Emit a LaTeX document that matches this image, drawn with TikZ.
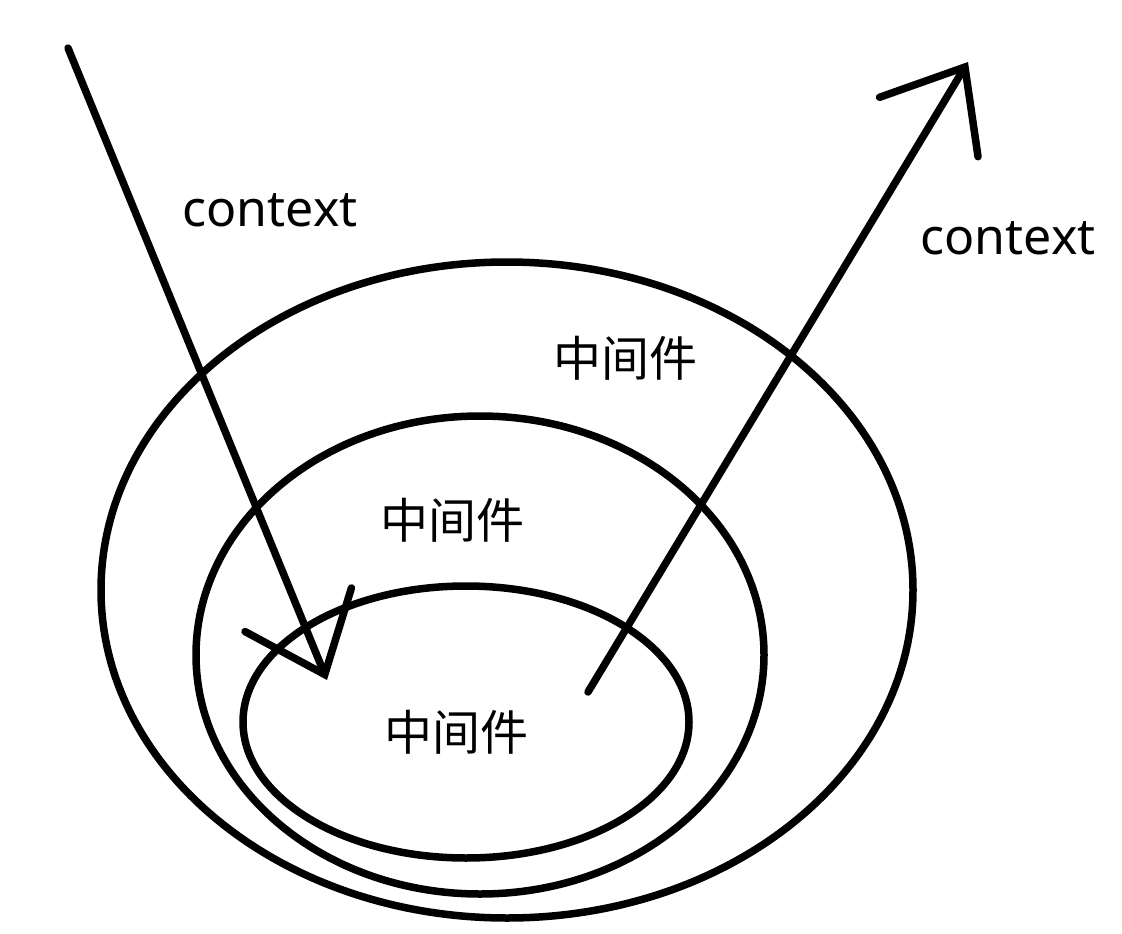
\documentclass[tikz,border=0pt]{standalone}
\usepackage{fontspec}
\setmainfont{Noto Sans}
\newfontfamily\cjk{Noto Sans CJK SC}
\usetikzlibrary{arrows.meta,shapes.geometric}

\begin{document}
\begin{tikzpicture}[
    x=1pt, y=-1pt,
    font=\fontsize{50}{60}\selectfont,
    layer/.style={draw=black, line width=7.5pt, ellipse, inner sep=0pt},
    mw/.style={font=\cjk\fontsize{48}{56}\selectfont},
    flow/.style={line width=7.5pt, line cap=round,
                 -{Straight Barb[length=70pt, width=115pt, line cap=round]}},
  ]
    \useasboundingbox (0,0) rectangle (1122,934);
    % nested layers
    \node[layer, minimum width=812pt, minimum height=656pt] (outer)  at (507,590) {};
    \node[layer, minimum width=568pt, minimum height=478pt] (middle) at (480,655) {};
    \node[layer, minimum width=446pt, minimum height=272pt] (inner)  at (466,722) {};
    \node[mw] (mwouter)  at (625,358) {中间件};
    \node[mw] (mwmiddle) at (452,520) {中间件};
    \node[mw] (mwinner)  at (456,732) {中间件};

    % request in, response out
    \coordinate (inA)  at (68,48);
    \coordinate (inB)  at (327,680);
    \coordinate (outA) at (588,692);
    \coordinate (outB) at (968,62);
    \draw[flow] (inA) -- (inB);
    \draw[flow] (outA) -- (outB);
    \node (ctxin)  at (270,210) {context};
    \node (ctxout) at (1008,238) {context};
  \end{tikzpicture}
\end{document}
